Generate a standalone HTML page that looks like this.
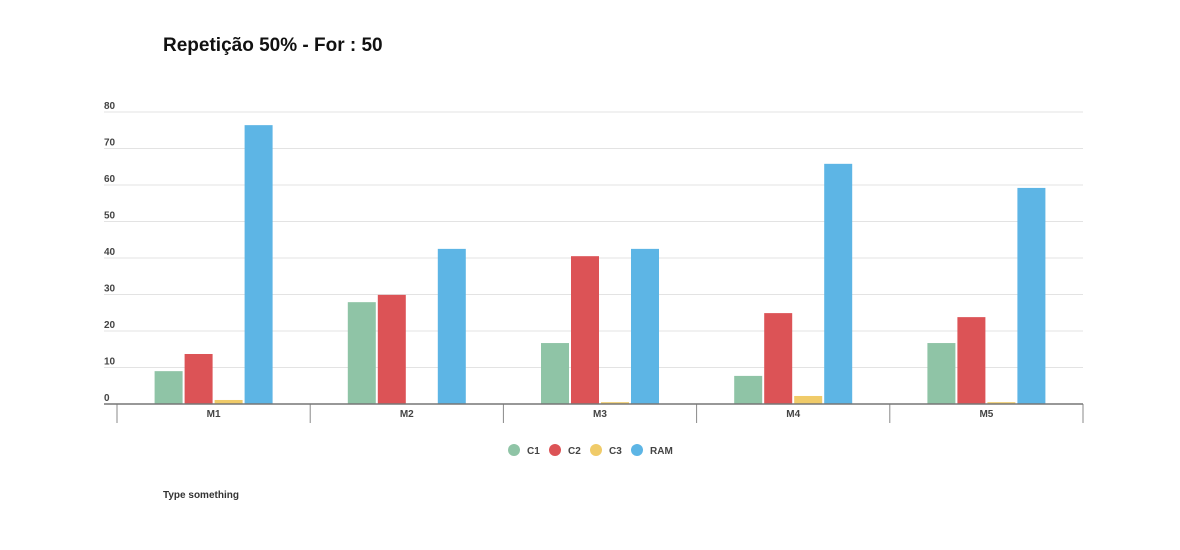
<!DOCTYPE html>
<html><head><meta charset="utf-8"><style>
body{margin:0;background:#fff;width:1180px;height:545px;overflow:hidden;font-family:"Liberation Sans",sans-serif}
</style></head><body>
<svg width="1180" height="545">
<text x="163" y="51" font-size="19" font-weight="bold" fill="#111">Repetição 50% - For : 50</text>
<g id="grid"></g><g id="bars"></g><g id="axis"></g><g id="legend"></g>
<text x="163" y="498" font-size="10" font-weight="bold" fill="#333">Type something</text>
</svg>
<script>
const categories=["M1","M2","M3","M4","M5"];
const seriesNames=["C1","C2","C3","RAM"];
const c1=[9.0,27.9,16.7,7.7,16.7];
const c2=[13.7,29.9,40.5,24.9,23.8];
const c3=[1.1,0,0.5,2.2,0.5];
const ram=[76.4,42.5,42.5,65.8,59.2];
const yTicks=[0,10,20,30,40,50,60,70,80];
const colors=["#8fc4a6","#dc5356","#f0cb69","#5db5e5"];
const NS="http://www.w3.org/2000/svg";
const X0=117,X1=1083,Y0=404,Y80=112;
const y=v=>Y0-(v/80)*(Y0-Y80);
const band=(X1-X0)/categories.length;
function mk(t,a,p){const e=document.createElementNS(NS,t);for(const k in a)e.setAttribute(k,a[k]);p.appendChild(e);return e;}
const grid=document.getElementById('grid'),bars=document.getElementById('bars'),axis=document.getElementById('axis'),leg=document.getElementById('legend');
yTicks.forEach(t=>{
 if(t>0){const l=mk('line',{x1:104,x2:X1,y1:y(t),y2:y(t),stroke:'#e3e3e3','stroke-width':1},grid);
 
 }
 const tx=mk('text',{x:104,y:y(t)-3,'font-size':10,'font-weight':'bold',fill:'#444'},grid);tx.textContent=t;
 
 
});
const series=[c1,c2,c3,ram];
const bw=28,gap=2,gw=4*bw+3*gap;
categories.forEach((c,i)=>{
 const gx=X0+i*band+(band-gw)/2;
 series.forEach((s,j)=>{
  const v=s[i];if(v<=0)return;
  const r=mk('rect',{x:gx+j*(bw+gap),y:y(v),width:bw,height:Y0-y(v),fill:colors[j]},bars);
  
  
 });
 const tx=mk('text',{x:X0+i*band+band/2,y:417,'font-size':10,'font-weight':'bold',fill:'#444','text-anchor':'middle'},axis);tx.textContent=c;
 
 
});
for(let i=0;i<=categories.length;i++){const xx=X0+i*band;const l=mk('line',{x1:xx,x2:xx,y1:Y0,y2:423,stroke:'#888','stroke-width':1},axis);
 
 }
const al=mk('line',{x1:104,x2:X1,y1:Y0,y2:Y0,stroke:'#777','stroke-width':1.5},axis);


const lx=[514,555,596,637];
seriesNames.forEach((n,j)=>{
 const g=mk('g',{},leg);
 
 
 mk('circle',{cx:lx[j],cy:450,r:6,fill:colors[j]},g);
 const t=mk('text',{x:lx[j]+13,y:454,'font-size':10,'font-weight':'bold',fill:'#444'},g);t.textContent=n;
});
</script>
</body></html>
